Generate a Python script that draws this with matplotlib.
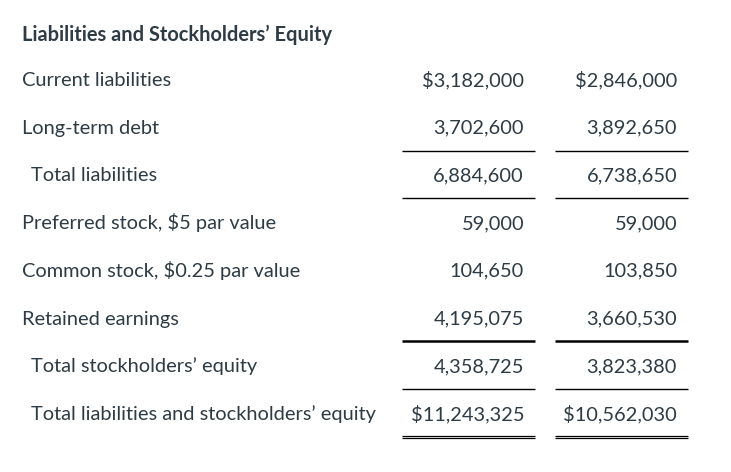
import matplotlib
matplotlib.use("Agg")
import matplotlib.pyplot as plt

# ============ Data ============

title = "Liabilities and Stockholders\u2019 Equity"
labels = [
    "Current liabilities",
    "Long-term debt",
    "Total liabilities",
    "Preferred stock, $5 par value",
    "Common stock, $0.25 par value",
    "Retained earnings",
    "Total stockholders\u2019 equity",
    "Total liabilities and stockholders\u2019 equity",
]
indented = [False, False, True, False, False, False, True, True]
col_a = ["$3,182,000", "3,702,600", "6,884,600", "59,000",
         "104,650", "4,195,075", "4,358,725", "$11,243,325"]
col_b = ["$2,846,000", "3,892,650", "6,738,650", "59,000",
         "103,850", "3,660,530", "3,823,380", "$10,562,030"]
# rule drawn under row i: "thin", "thick" or "double"
rules = {1: "thin", 2: "thin", 5: "thick", 6: "thin", 7: "double"}

# ============ Layout (pixels) ============

W, H = 731, 472
TXT = "#2d3b45"
FS = 14.4
base0, row_dy = 86, 47.7     # baseline of first row, row pitch
col_right = [524, 677]
col_span = [(402, 535), (555, 688)]

fig = plt.figure(figsize=(W / 100, H / 100), dpi=100)
ax = fig.add_axes([0, 0, 1, 1])
ax.set_xlim(0, W)
ax.set_ylim(H, 0)
ax.axis("off")

font = dict(family=["Lato", "DejaVu Sans"], color=TXT, fontsize=FS, va="baseline")

ax.text(22, 40.7, title, fontweight="bold", ha="left", **font)

for i, lab in enumerate(labels):
    y = base0 + i * row_dy
    ax.text(31 if indented[i] else 22, y, lab, ha="left", **font)
    ax.text(col_right[0], y, col_a[i], ha="right", **font)
    ax.text(col_right[1], y, col_b[i], ha="right", **font)

for i, kind in rules.items():
    y = base0 - 7 + i * row_dy + 23.8
    for x0, x1 in col_span:
        if kind == "thin":
            ax.plot([x0, x1], [y, y], color="black", lw=1.0, solid_capstyle="butt")
        elif kind == "thick":
            ax.plot([x0, x1], [y, y], color="black", lw=1.8, solid_capstyle="butt")
        else:
            ax.plot([x0, x1], [y - 1.2, y - 1.2], color="black", lw=0.9, solid_capstyle="butt")
            ax.plot([x0, x1], [y + 1.2, y + 1.2], color="black", lw=0.9, solid_capstyle="butt")

fig.savefig("out.png", dpi=100, facecolor="white")
